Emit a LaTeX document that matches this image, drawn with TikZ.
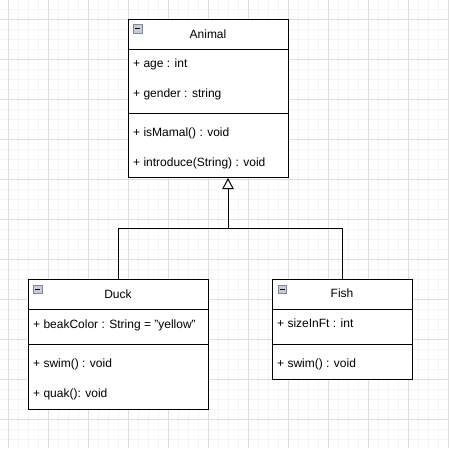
\documentclass[tikz,border=0pt]{standalone}
\usepackage{fontspec}
\setmainfont{Liberation Sans}
\usetikzlibrary{arrows.meta}
\definecolor{gridminor}{RGB}{245,245,245}
\definecolor{gridmajor}{RGB}{222,222,222}
\definecolor{iconfill}{RGB}{200,204,216}
\definecolor{iconborder}{RGB}{128,136,152}
\tikzset{
  umlbox/.style={draw=black, line width=1pt, fill=white, inner sep=0pt, anchor=north west},
  divider/.style={draw=black, line width=1pt},
  field/.style={inner sep=0pt, anchor=base west, font=\fontsize{12pt}{14pt}\selectfont, text=black},
  title/.style={inner sep=0pt, anchor=base, font=\fontsize{12pt}{14pt}\selectfont, text=black},
  minusicon/.style={draw=iconborder, fill=iconfill, line width=0.6pt, inner sep=0pt, minimum size=8.5pt, anchor=north west},
  connector/.style={draw=black, line width=1pt},
  gen/.style={connector, -{Triangle[open, length=11pt, width=11.5pt]}}
}
\begin{document}
\begin{tikzpicture}[x=1pt, y=-1pt]
  \useasboundingbox (0,0) rectangle (449,448);
  \fill[white] (0,0) rectangle (449,448);
  % grid
  \foreach \x in {8,18,...,448} \draw[gridminor, line width=1pt] (\x,0) -- (\x,448);
  \foreach \y in {9,19,...,439} \draw[gridminor, line width=1pt] (0,\y) -- (449,\y);
  \foreach \x in {8,48,...,448} \draw[gridmajor, line width=1pt] (\x,0) -- (\x,448);
  \foreach \y in {19,59,...,419} \draw[gridmajor, line width=1pt] (0,\y) -- (449,\y);

  % Animal
  \node[umlbox, minimum width=160pt, minimum height=158pt] (animal) at (128,19) {};
  \draw[divider] (128,49) -- (288,49);
  \draw[divider] (128,113) -- (288,113);
  \node[minusicon] (animalicon) at (133,24) {};
  \draw[black, line width=0.9pt] ([xshift=2pt]animalicon.west) -- ([xshift=-2pt]animalicon.east);
  \node[title] (animaltitle) at (208,38.5) {Animal};
  \node[field] (animalage) at (133,67.5) {+ age : int};
  \node[field] (animalgender) at (133,97.5) {+ gender : string};
  \node[field] (animalmamal) at (133,136.5) {+ isMamal() : void};
  \node[field] (animalintro) at (133,166.5) {+ introduce(String) : void};

  % Duck
  \node[umlbox, minimum width=180pt, minimum height=130pt] (duck) at (28,279) {};
  \draw[divider] (28,309.5) -- (208,309.5);
  \draw[divider] (28,344) -- (208,344);
  \node[minusicon] (duckicon) at (33.3,284.5) {};
  \draw[black, line width=0.9pt] ([xshift=2pt]duckicon.west) -- ([xshift=-2pt]duckicon.east);
  \node[title] (ducktitle) at (118,298.3) {Duck};
  \node[field] (duckbeak) at (33,328.3) {+ beakColor : String = "yellow"};
  \node[field] (duckswim) at (33,367.3) {+ swim() : void};
  \node[field] (duckquak) at (33,397.3) {+ quak(): void};

  % Fish
  \node[umlbox, minimum width=140pt, minimum height=100pt] (fish) at (272,279) {};
  \draw[divider] (272,309.5) -- (412,309.5);
  \draw[divider] (272,344) -- (412,344);
  \node[minusicon] (fishicon) at (277.8,284.5) {};
  \draw[black, line width=0.9pt] ([xshift=2pt]fishicon.west) -- ([xshift=-2pt]fishicon.east);
  \node[title] (fishtitle) at (342,297.8) {Fish};
  \node[field] (fishsize) at (277,327.8) {+ sizeInFt : int};
  \node[field] (fishswim) at (277,367.3) {+ swim() : void};

  % generalization
  \coordinate (junction) at (228,228.5);
  \draw[connector] (duck.north) |- (junction);
  \draw[connector] (fish.north) |- (junction);
  \draw[gen] (junction) -- (junction |- animal.south);
\end{tikzpicture}
\end{document}
